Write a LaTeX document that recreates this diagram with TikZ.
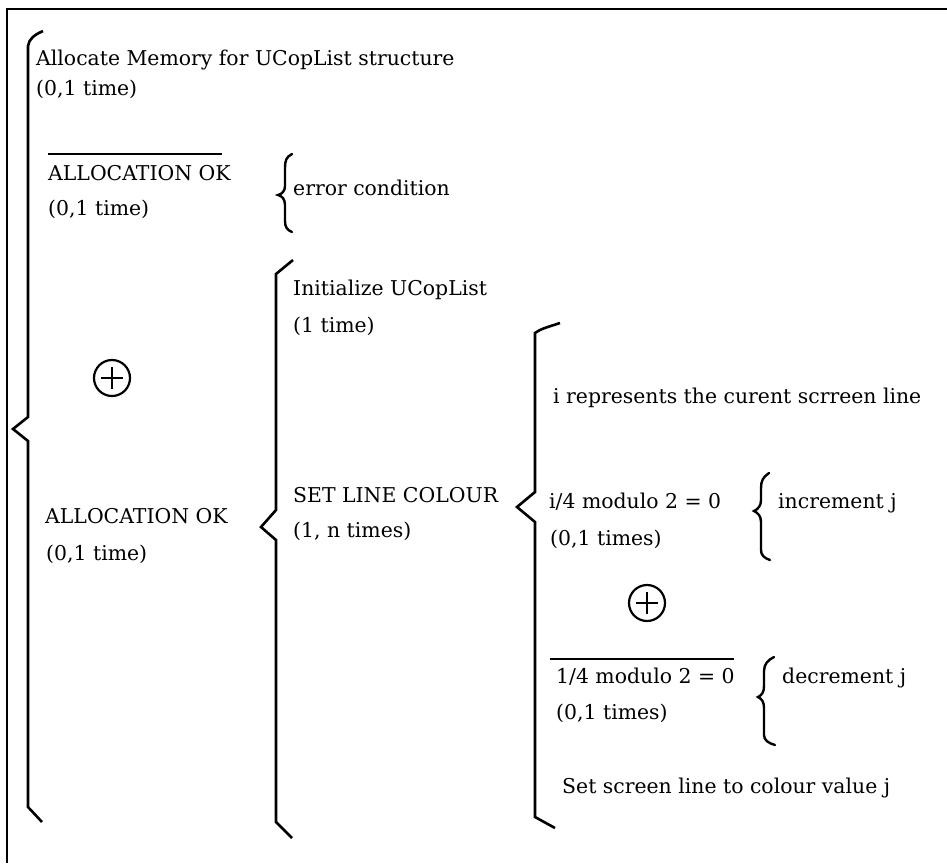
\documentclass[tikz,border=0pt]{standalone}
\usepackage{fontspec}
\setmainfont{DejaVu Serif}
\begin{document}
\begin{tikzpicture}[x=1pt,y=-1pt,
  lbl/.style={anchor=base west,inner sep=0pt,font=\fontsize{20.4}{22}\selectfont},
  brace/.style={line width=2.6pt,line join=miter,line cap=butt},
  curly/.style={line width=2.4pt,line cap=round},
  frame/.style={line width=2.4pt},
  bar/.style={line width=1.8pt},
  orsym/.style={circle,draw,line width=2.2pt,minimum size=36pt,inner sep=0pt,
    path picture={\draw[line width=2pt]
      ([xshift=-11pt]path picture bounding box.center) -- ([xshift=11pt]path picture bounding box.center)
      ([yshift=-11pt]path picture bounding box.center) -- ([yshift=11pt]path picture bounding box.center);}}]
\useasboundingbox (0,0) rectangle (947,863);
% outer frame: top and left edges
\draw[frame] (947,9) -- (7,9) -- (7,863);

% outermost brace
\draw[brace] (43,31) .. controls (34,35) and (29,39) .. (28,46) -- (28,417) -- (13,429) -- (28,441) -- (28,807) -- (42,822);
\node[lbl] (alloc) at (36,65) {Allocate Memory for UCopList structure};
\node[lbl] (alloct) at (36,95) {(0,1 time)};
\node[lbl] (notok) at (48,180) {ALLOCATION OK};
\draw[bar] ([yshift=26pt]notok.base west) -- ++(174,0);
\node[lbl] (notokt) at (48,215) {(0,1 time)};

% error branch
\draw[curly] (292,154) .. controls (286,157) and (285,161) .. (285,168) -- (285,186) .. controls (285,191) and (282,194) .. (278,195)
  .. controls (282,196) and (285,199) .. (285,205) -- (285,221) .. controls (285,227) and (287,230) .. (292,232);
\node[lbl] (err) at (293,195) {error condition};

\node[orsym] (or1) at (112,378) {};

\node[lbl] (ok) at (45,523) {ALLOCATION OK};
\node[lbl] (okt) at (46,560) {(0,1 time)};

% second-level brace
\draw[brace] (293,260) -- (276,274) -- (276,510) -- (261,527) -- (276,540) -- (276,822) -- (292,838);
\node[lbl] (init) at (293,295) {Initialize UCopList};
\node[lbl] (initt) at (293,332) {(1 time)};
\node[lbl] (setc) at (293,502) {SET LINE COLOUR};
\node[lbl] (setct) at (293,537) {(1, n times)};

% third-level brace
\draw[brace] (560,323) .. controls (548,327) and (540,329) .. (535,333) -- (535,492) -- (517,507) -- (535,522) -- (535,817) -- (555,828);
\node[lbl] (irep) at (553,403) {i represents the curent scrreen line};
\node[lbl] (cond) at (549,508) {i/4 modulo 2 = 0};
\node[lbl] (condt) at (550,545) {(0,1 times)};

% increment branch
\draw[curly] (769,473) .. controls (763,477) and (761,481) .. (761,488) -- (761,500) .. controls (761,506) and (758,509) .. (754,511)
  .. controls (758,513) and (761,516) .. (761,522) -- (761,550) .. controls (761,555) and (764,558) .. (770,560);
\node[lbl] (inc) at (778,508) {increment j};

\node[orsym] (or2) at (647,603) {};

\node[lbl] (ncond) at (556,683) {1/4 modulo 2 = 0};
\draw[bar] ([xshift=-6pt,yshift=24pt]ncond.base west) -- ++(184,0);
\node[lbl] (ncondt) at (556,719) {(0,1 times)};

% decrement branch
\draw[curly] (774,657) .. controls (768,660) and (764,664) .. (764,671) -- (764,686) .. controls (764,692) and (762,695) .. (758,697)
  .. controls (762,699) and (764,702) .. (764,708) -- (764,735) .. controls (764,740) and (768,743) .. (775,745);
\node[lbl] (dec) at (782,683) {decrement j};

\node[lbl] (setv) at (562,793) {Set screen line to colour value j};
\end{tikzpicture}
\end{document}
